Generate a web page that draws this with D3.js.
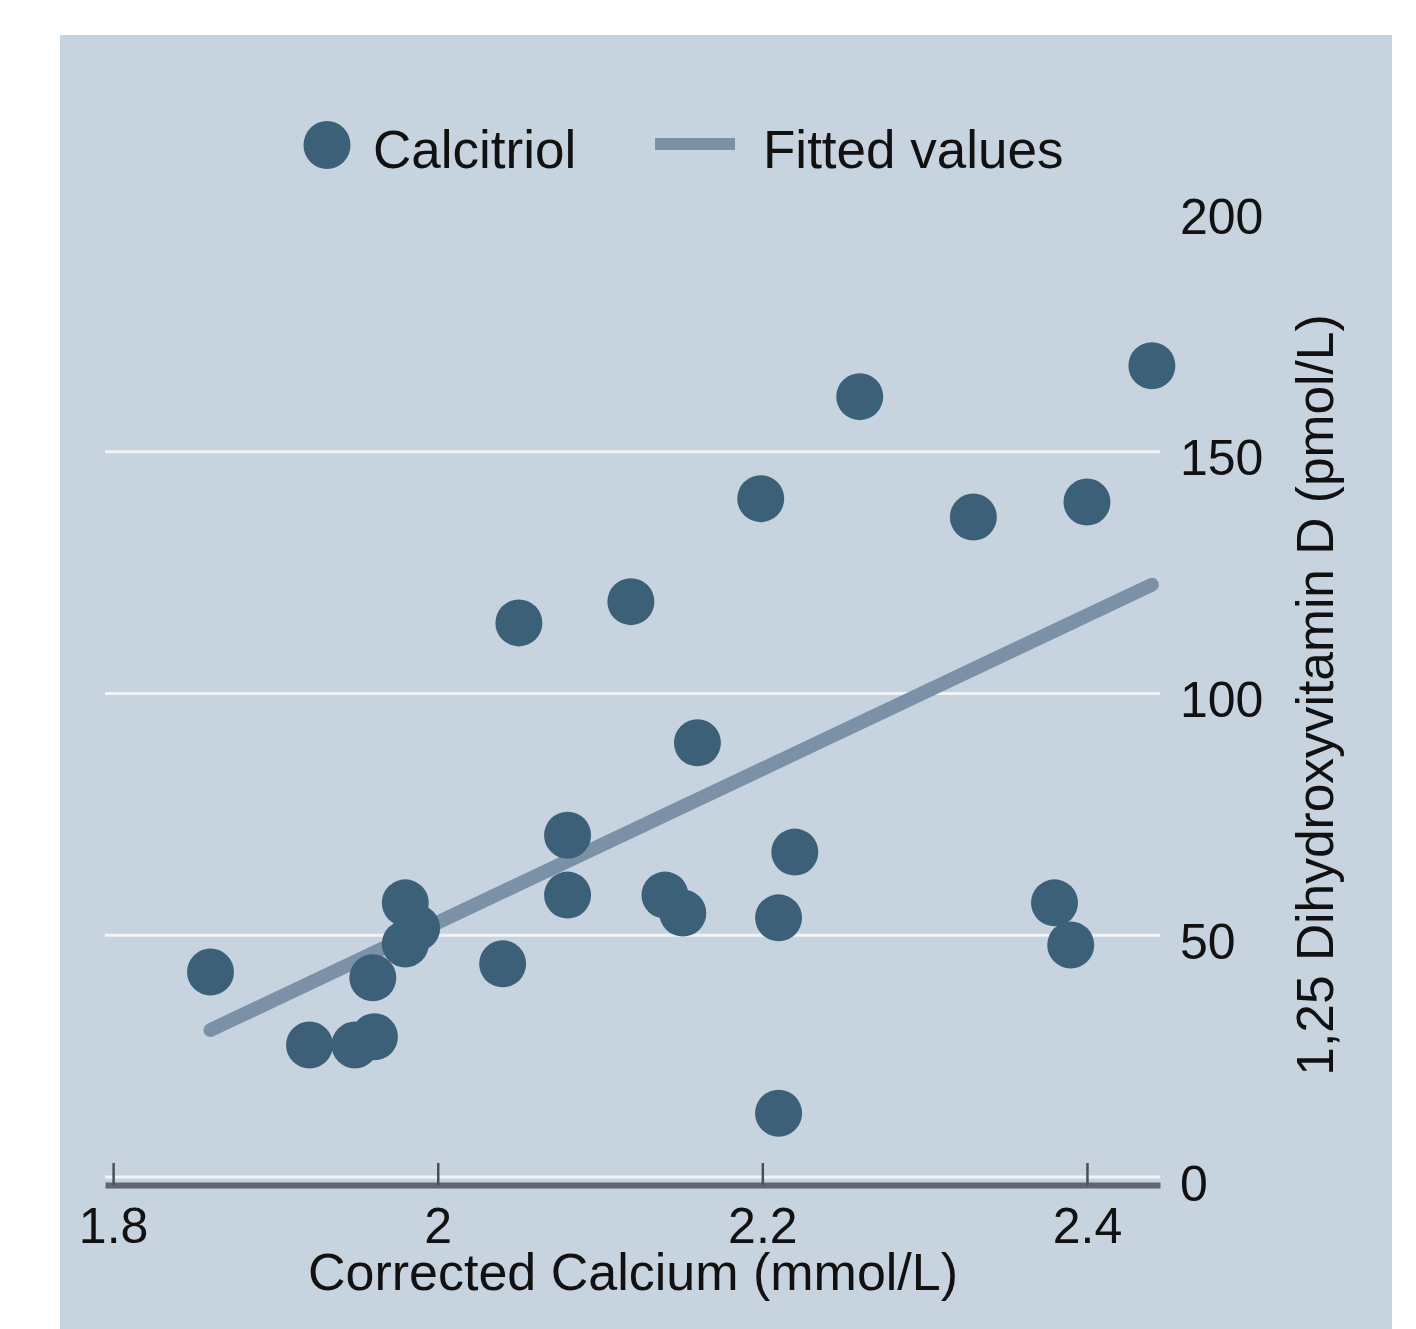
<!DOCTYPE html>
<html>
<head>
<meta charset="utf-8">
<script src="https://cdn.jsdelivr.net/npm/d3@7"></script>
<style>
  html, body { margin: 0; padding: 0; background: #ffffff; }
  svg { display: block; }
  text { font-family: "Liberation Sans", Arial, Helvetica, sans-serif; fill: #111; }
</style>
</head>
<body>
<div id="chart"></div>
<script>
// Calcitriol observations (corrected calcium, 1,25 dihydroxyvitamin D)
const calcium = [1.86, 1.921, 1.949, 1.961, 1.96, 1.98, 1.987, 1.98, 2.04, 2.05, 2.119,
  2.08, 2.08, 2.14, 2.151, 2.16, 2.21, 2.22, 2.21, 2.199, 2.26, 2.33, 2.40, 2.44, 2.38, 2.39];
const calcitriol = [42.4, 27.3, 27.3, 29.0, 41.2, 56.7, 51.5, 48.2, 44.1, 114.6, 119.0,
  70.7, 58.3, 58.3, 54.6, 89.8, 53.6, 67.2, 13.2, 140.3, 161.4, 136.5, 139.6, 167.8, 56.7, 48.0];

// Fitted values line endpoints
const fitX = [1.86, 2.44];
const fitY = [30.4, 122.5];

const xTicks = [1.8, 2.0, 2.2, 2.4];
const yTicks = [0, 50, 100, 150, 200];
const gridValues = [0, 50, 100, 150];
const xDomain = [1.795, 2.445];
const yDomain = [0, 200];

const W = 1416, H = 1329;
const dotColor = "#3d6079";
const fitColor = "#7b91a8";

const svg = d3.select("#chart").append("svg")
  .attr("width", W)
  .attr("height", H);

// panel background
svg.append("rect")
  .attr("x", 60).attr("y", 35)
  .attr("width", 1332).attr("height", 1294)
  .attr("fill", "#c7d3df");

const x = d3.scaleLinear().domain(xDomain).range([105, 1160]);
const y = d3.scaleLinear().domain(yDomain).range([1177, 210]);

// gridlines
svg.append("g")
  .selectAll("line")
  .data(gridValues)
  .join("line")
  .attr("x1", x(xDomain[0]))
  .attr("x2", x(xDomain[1]))
  .attr("y1", (d) => y(d))
  .attr("y2", (d) => y(d))
  .attr("stroke", "#f1f4f7")
  .attr("stroke-width", 3);

// x axis (ticks pointing up, labels below)
const xAxis = svg.append("g")
  .attr("transform", "translate(0,1185)")
  .call(d3.axisBottom(x)
    .tickValues(xTicks)
    .tickFormat((d) => d3.format("~g")(d))
    .tickSizeInner(-22)
    .tickSizeOuter(0)
    .tickPadding(22));
xAxis.select(".domain").attr("stroke", "#5f6670").attr("stroke-width", 6);
xAxis.selectAll(".tick line").attr("stroke", "#4a4f57").attr("stroke-width", 2.5);
xAxis.selectAll(".tick text")
  .attr("font-size", 50)
  .attr("fill", "#111");

// y axis on the right
const yAxis = svg.append("g")
  .attr("transform", `translate(${x(xDomain[1])},0)`)
  .call(d3.axisRight(y)
    .tickValues(yTicks)
    .tickSize(0)
    .tickPadding(20));
yAxis.select(".domain").remove();
yAxis.selectAll(".tick text")
  .attr("font-size", 50)
  .attr("dy", "0.46em")
  .attr("fill", "#111");

// fitted line
svg.append("path")
  .datum(d3.zip(fitX, fitY))
  .attr("d", d3.line().x((d) => x(d[0])).y((d) => y(d[1])))
  .attr("fill", "none")
  .attr("stroke", fitColor)
  .attr("stroke-width", 14)
  .attr("stroke-linecap", "round");

// points
svg.append("g")
  .selectAll("circle")
  .data(d3.zip(calcium, calcitriol))
  .join("circle")
  .attr("cx", (d) => x(d[0]))
  .attr("cy", (d) => y(d[1]))
  .attr("r", 23.5)
  .attr("fill", dotColor);

// axis titles
svg.append("text")
  .attr("x", 633)
  .attr("y", 1290)
  .attr("text-anchor", "middle")
  .attr("font-size", 52)
  .text("Corrected Calcium (mmol/L)");

svg.append("text")
  .attr("transform", "translate(1333,695) rotate(-90)")
  .attr("text-anchor", "middle")
  .attr("font-size", 51.5)
  .text("1,25 Dihydroxyvitamin D (pmol/L)");

// legend
const legend = svg.append("g");
legend.append("ellipse")
  .attr("cx", 327).attr("cy", 145)
  .attr("rx", 23.5).attr("ry", 24)
  .attr("fill", dotColor);
legend.append("text")
  .attr("x", 373).attr("y", 168)
  .attr("font-size", 53)
  .text("Calcitriol");
legend.append("line")
  .attr("x1", 655).attr("x2", 735)
  .attr("y1", 144).attr("y2", 144)
  .attr("stroke", fitColor)
  .attr("stroke-width", 12);
legend.append("text")
  .attr("x", 763).attr("y", 168)
  .attr("font-size", 53)
  .text("Fitted values");
</script>
</body>
</html>
